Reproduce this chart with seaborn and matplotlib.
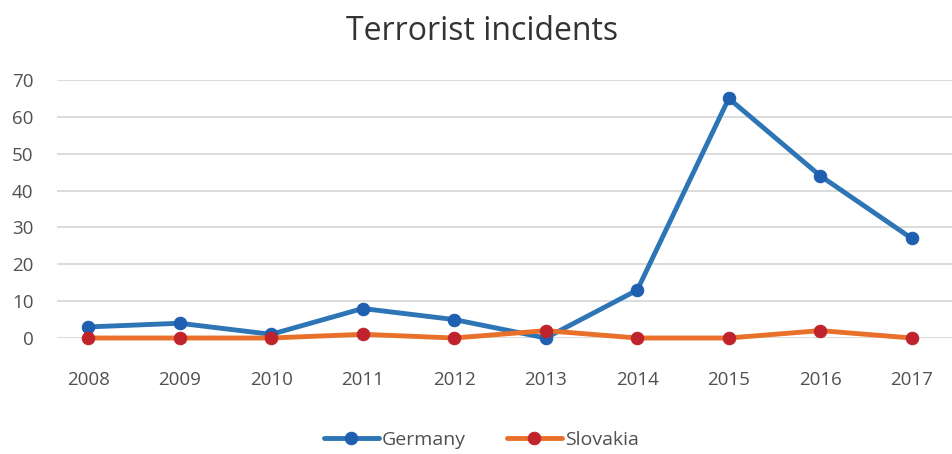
import matplotlib
matplotlib.use("Agg")
import matplotlib.pyplot as plt
import seaborn as sns
import pandas as pd

years = ["2008", "2009", "2010", "2011", "2012", "2013", "2014", "2015", "2016", "2017"]
germany = [3, 4, 1, 8, 5, 0, 13, 65, 44, 27]
slovakia = [0, 0, 0, 1, 0, 2, 0, 0, 2, 0]
y_ticks = [0, 10, 20, 30, 40, 50, 60, 70]

sns.set_theme(style="white")
plt.rcParams["font.family"] = ["Open Sans", "DejaVu Sans"]

df = pd.DataFrame({"idx": list(range(len(years))), "Germany": germany, "Slovakia": slovakia})

fig = plt.figure(figsize=(9.53, 4.54), dpi=100)
ax = fig.add_axes([57/953, (454-338)/454, (953-57)/953, 258/454])

sns.lineplot(data=df, x="idx", y="Germany", ax=ax, color="#2E75B6", linewidth=3.5,
             marker="o", markersize=9, markerfacecolor="#1F5FB0", markeredgecolor="#1F5FB0",
             label="Germany", clip_on=False, zorder=3)
sns.lineplot(data=df, x="idx", y="Slovakia", ax=ax, color="#E8702A", linewidth=3.5,
             marker="o", markersize=9, markerfacecolor="#C0232B", markeredgecolor="#C0232B",
             label="Slovakia", clip_on=False, zorder=4)

ax.set_xlim(-0.34, 9.45)
ax.set_ylim(0, 70)
ax.set_yticks(y_ticks)
ax.set_xticks(range(len(years)))
ax.set_xticklabels(years)
ax.yaxis.grid(True, color="#D9D9D9", linewidth=1.3)
ax.xaxis.grid(False)
for s in ax.spines.values():
    s.set_visible(False)
ax.tick_params(axis="x", length=0, pad=24, labelsize=13.5, labelcolor="#505050")
ax.tick_params(axis="y", length=0, pad=17, labelsize=13.5, labelcolor="#505050")
ax.set_xlabel("")
ax.set_ylabel("")

fig.text(0.506, 1 - 40/454, "Terrorist incidents", ha="center", va="baseline",
         fontsize=23, color="#333333")

ax.legend_.remove()
h, l = ax.get_legend_handles_labels()
fig.legend(h, l, loc="center", bbox_to_anchor=(0.505, 14/454), ncol=2, frameon=False,
           fontsize=14, labelcolor="#505050", handlelength=2.85, columnspacing=2.1,
           handletextpad=0.15)

fig.savefig("out.png", dpi=100)
